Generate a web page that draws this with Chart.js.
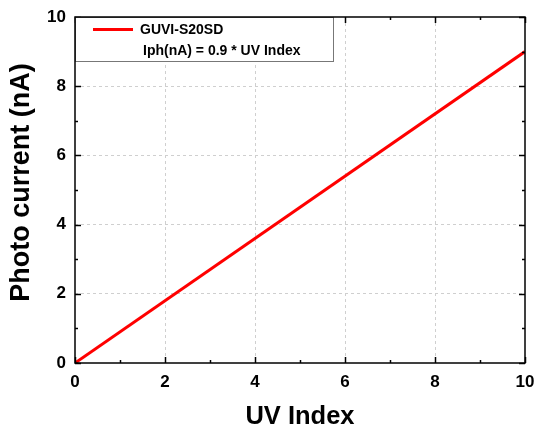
<!DOCTYPE html>
<html><head><meta charset="utf-8">
<script src="https://cdn.jsdelivr.net/npm/chart.js@4.4.1/dist/chart.umd.min.js"></script>
<style>html,body{margin:0;padding:0;background:#fff}#wrap{width:535px;height:430px}</style>
</head><body><div id="wrap"><canvas id="c" width="535" height="430"></canvas></div>
<script>
const uvIndex = [0, 10];
const photoCurrent = [0, 9];
const seriesLabel = 'GUVI-S20SD';
const legendNote = 'Iph(nA) = 0.9 * UV Index';
const xTitle = 'UV Index';
const yTitle = '  Photo current (nA)';
const xRange = [0, 10];
const yRange = [0, 10];

const frame = {
  id: 'frame',
  afterDraw(chart) {
    const {ctx, chartArea: a, scales: {x, y}} = chart;
    ctx.save();
    ctx.strokeStyle = '#000'; ctx.lineWidth = 1.5;
    for (let v = xRange[0]; v <= xRange[1]; v++) {
      const px = Math.round(x.getPixelForValue(v)) + 0.5;
      const L = v % 2 === 0 ? 6 : 3;
      ctx.beginPath(); ctx.moveTo(px, a.bottom); ctx.lineTo(px, a.bottom - L); ctx.stroke();
      ctx.beginPath(); ctx.moveTo(px, a.top); ctx.lineTo(px, a.top + L); ctx.stroke();
    }
    for (let v = yRange[0]; v <= yRange[1]; v++) {
      const py = Math.round(y.getPixelForValue(v)) + 0.5;
      const L = v % 2 === 0 ? 6 : 3;
      ctx.beginPath(); ctx.moveTo(a.left, py); ctx.lineTo(a.left + L, py); ctx.stroke();
      ctx.beginPath(); ctx.moveTo(a.right, py); ctx.lineTo(a.right - L, py); ctx.stroke();
    }
    const lx = a.left, ly = a.top, lw = 258, lh = 44;
    ctx.fillStyle = '#fff';
    ctx.fillRect(lx, ly, lw, lh);
    ctx.strokeStyle = '#777'; ctx.lineWidth = 1;
    ctx.strokeRect(lx + 0.5, ly + 0.5, lw, lh);
    ctx.strokeStyle = '#ff0000'; ctx.lineWidth = 3;
    ctx.beginPath(); ctx.moveTo(lx + 18, ly + 12.5); ctx.lineTo(lx + 58, ly + 12.5); ctx.stroke();
    ctx.fillStyle = '#000';
    ctx.font = 'bold 14px "Liberation Sans", Arial, sans-serif';
    ctx.textBaseline = 'middle'; ctx.textAlign = 'left';
    ctx.fillText(chart.data.datasets[0].label, lx + 65, ly + 13);
    ctx.fillText(legendNote, lx + 68, ly + 34);
    ctx.strokeStyle = '#000'; ctx.lineWidth = 1.5;
    ctx.strokeRect(a.left, a.top, a.right - a.left, a.bottom - a.top);
    ctx.restore();
  }
};

const tickFont = {family: '"Liberation Sans", Arial, sans-serif', size: 17, weight: 'bold'};
const xTitleFont = {family: '"Liberation Sans", Arial, sans-serif', size: 25.5, weight: 'bold', lineHeight: 1};
const yTitleFont = {family: '"Liberation Sans", Arial, sans-serif', size: 27, weight: 'bold', lineHeight: 1};
const gridColor = (ctx, r) => (ctx.tick && ctx.tick.value % 2 === 0 && ctx.tick.value !== r[0] && ctx.tick.value !== r[1]) ? '#cfcfcf' : 'rgba(0,0,0,0)';

new Chart(document.getElementById('c'), {
  type: 'line',
  data: {
    datasets: [{
      label: seriesLabel,
      data: uvIndex.map((u, i) => ({x: u, y: photoCurrent[i]})),
      borderColor: '#ff0000',
      borderWidth: 3,
      pointRadius: 0,
      fill: false,
      tension: 0
    }]
  },
  options: {
    responsive: false,
    animation: false,
    devicePixelRatio: 1,
    layout: {padding: {left: 0, top: 17, right: 10, bottom: 0}},
    plugins: {legend: {display: false}, tooltip: {enabled: false}},
    scales: {
      x: {
        type: 'linear', min: xRange[0], max: xRange[1],
        afterFit(s) { s.height = 67; s.paddingLeft = 0; s.paddingRight = 0; },
        ticks: {stepSize: 1, font: tickFont, color: '#000', padding: 9, maxRotation: 0, autoSkip: false,
          callback: v => (v % 2 === 0 ? String(v) : '')},
        grid: {drawTicks: false, color: c => gridColor(c, xRange), lineWidth: 1},
        border: {display: false, dash: [3, 3]},
        title: {display: true, text: xTitle, font: xTitleFont, color: '#000', padding: {top: 0, bottom: 0}}
      },
      y: {
        type: 'linear', min: yRange[0], max: yRange[1],
        afterFit(s) { s.width = 75; s.paddingTop = 0; s.paddingBottom = 0; },
        ticks: {stepSize: 1, font: tickFont, color: '#000', padding: 9, autoSkip: false,
          callback: v => (v % 2 === 0 ? String(v) : '')},
        grid: {drawTicks: false, color: c => gridColor(c, yRange), lineWidth: 1},
        border: {display: false, dash: [3, 3]},
        title: {display: true, text: yTitle, font: yTitleFont, color: '#000', padding: {top: 8.5, bottom: 0}}
      }
    }
  },
  plugins: [frame]
});
</script>
</body></html>
